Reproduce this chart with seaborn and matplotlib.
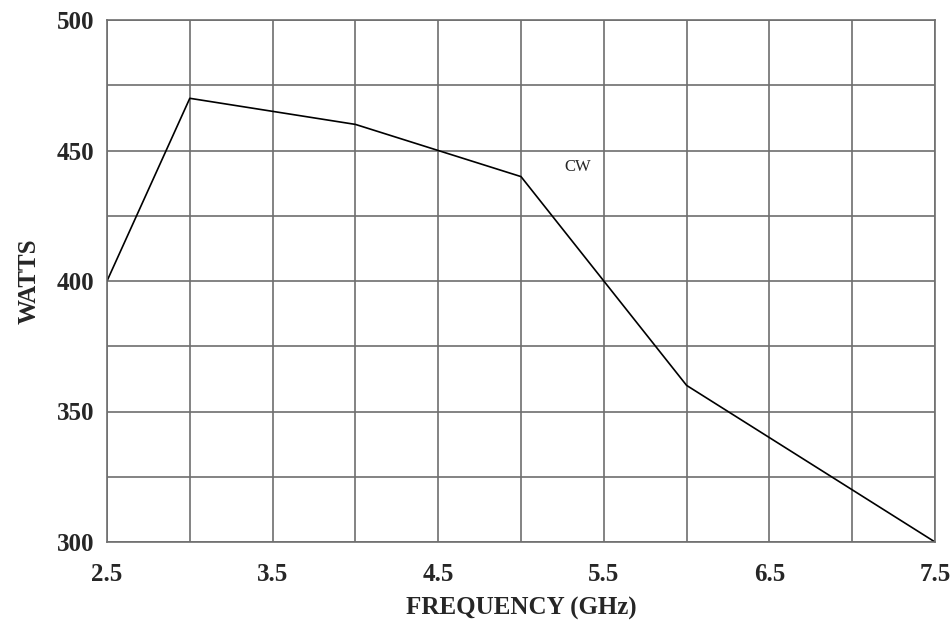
import matplotlib
matplotlib.use("Agg")
import matplotlib.pyplot as plt
import seaborn as sns
import pandas as pd
import numpy as np

freq_ghz = [2.5, 3.0, 3.5, 4.0, 4.5, 5.0, 5.5, 6.0, 6.5, 7.0, 7.5]
watts = [400, 470, 465, 460, 450, 440, 400, 360, 340, 320, 300]
x_labels = ["2.5", "3.5", "4.5", "5.5", "6.5", "7.5"]
y_labels = ["300", "350", "400", "450", "500"]

sns.set_theme(style="white")
plt.rcParams['font.family'] = ['Liberation Serif', 'DejaVu Serif']

df = pd.DataFrame({"freq": freq_ghz, "watts": watts})

fig = plt.figure(figsize=(9.5, 6.21), dpi=100)
ax = fig.add_axes([107/950, 1 - 542/621, (935-107)/950, (542-20)/621])

sns.lineplot(data=df, x="freq", y="watts", ax=ax, color="black", linewidth=1.2)

ax.set_xlim(2.5, 7.5)
ax.set_ylim(300, 500)
ax.set_xticks([float(v) for v in x_labels])
ax.set_xticklabels(x_labels)
ax.set_yticks([float(v) for v in y_labels])
ax.set_yticklabels(y_labels)
ax.set_xticks(np.arange(3.0, 7.5, 1.0), minor=True)
ax.set_yticks(np.arange(325, 500, 50), minor=True)
ax.grid(True, which="both", color="#6e6e6e", linewidth=1.2)
ax.tick_params(which="both", length=0)
ax.tick_params(axis="x", pad=15, labelsize=18)
ax.tick_params(axis="y", pad=9, labelsize=18)
for lab in ax.get_xticklabels() + ax.get_yticklabels():
    lab.set_fontweight("bold")
for sp in ax.spines.values():
    sp.set_color("#6e6e6e")
    sp.set_linewidth(1.2)

ax.set_xlabel("FREQUENCY (GHz)", fontsize=18, fontweight="bold", labelpad=8)
ax.set_ylabel("WATTS", fontsize=18, fontweight="bold", labelpad=12)
ax.text(5.34, 443.5, "CW", fontsize=12, ha="center", va="center")

fig.savefig("out.png", dpi=100)
